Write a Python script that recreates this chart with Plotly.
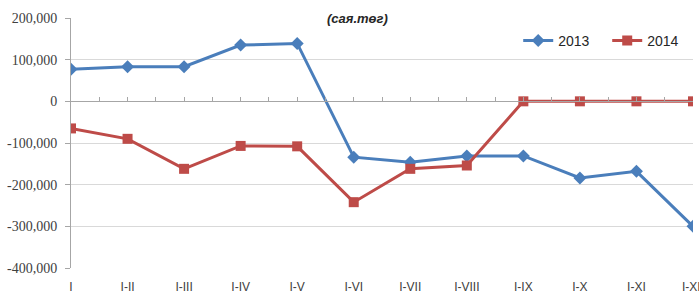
import plotly.graph_objects as go

categories = ["I", "I-II", "I-III", "I-IV", "I-V", "I-VI", "I-VII", "I-VIII", "I-IX", "I-X", "I-XI", "I-XII"]
values_2013 = [77000, 83000, 83000, 135000, 139000, -134000, -146000, -131000, -131000, -184000, -168000, -300000]
values_2014 = [-65000, -90000, -162000, -107000, -108000, -242000, -162000, -154000, 0, 0, 0, 0]
y_ticks = [200000, 100000, 0, -100000, -200000, -300000, -400000]
y_ticktext = ["200,000", "100,000", "0", "-100,000", "-200,000", "-300,000", "-400,000"]

BLUE = "#4A7EBB"
RED = "#BE4B48"

fig = go.Figure()
fig.add_trace(go.Scatter(x=categories, y=values_2013, name="2013", mode="lines+markers",
                         line=dict(color=BLUE, width=3),
                         marker=dict(symbol="diamond", size=10, color=BLUE)))
fig.add_trace(go.Scatter(x=categories, y=values_2014, name="2014", mode="lines+markers",
                         line=dict(color=RED, width=3),
                         marker=dict(symbol="square", size=10, color=RED)))

# helper axis drawn along y = 0 (Excel horizontal axis crossing at zero)
n = len(categories)
fig.add_trace(go.Scatter(x=[0, n - 1], y=[0, 0], xaxis="x2", mode="lines",
                         line=dict(color="rgba(0,0,0,0)", width=0), showlegend=False, hoverinfo="skip"))

fig.update_layout(
    width=699, height=294,
    margin=dict(l=71, r=6, t=18, b=26, autoexpand=False),
    paper_bgcolor="white", plot_bgcolor="white",
    showlegend=True,
    legend=dict(orientation="h", x=0.719, y=0.908, xanchor="left", yanchor="middle",
                font=dict(family="Liberation Sans, Arial", size=14, color="#262626"),
                bgcolor="rgba(0,0,0,0)", itemwidth=30, entrywidth=44, entrywidthmode="pixels"),
    xaxis=dict(type="category", range=[0, n - 1], showgrid=False, zeroline=False,
               showline=False, ticks="", ticklabelstandoff=10, automargin=False,
               tickfont=dict(family="Liberation Sans, Arial", size=12, color="#404040")),
    xaxis2=dict(range=[0, n - 1], overlaying="x", anchor="free", position=4 / 6,
                showline=True, linecolor="#A6A6A6", linewidth=1, automargin=False,
                ticks="inside", ticklen=4, tickcolor="#A6A6A6", dtick=0.5, tick0=0,
                showticklabels=False, showgrid=False, zeroline=False),
    yaxis=dict(range=[-400000, 200000], tickvals=y_ticks, ticktext=y_ticktext,
               showgrid=True, gridcolor="#D9D9D9", gridwidth=1, zeroline=False,
               showline=True, linecolor="#A6A6A6", linewidth=1, automargin=False,
               ticks="outside", ticklen=5, tickcolor="#A6A6A6", ticklabelstandoff=5,
               tickfont=dict(family="Liberation Serif, Times New Roman", size=14, color="#404040")),
    annotations=[dict(text="<b><i>(сая.төг)</i></b>", x=0.46, y=1.0, xref="paper", yref="paper",
                      xanchor="center", yanchor="middle", showarrow=False,
                      font=dict(family="Liberation Sans, Arial", size=13, color="#262626"))],
)

fig.write_html("out.html", config={"displayModeBar": False},
               post_script="document.body.style.margin='0';document.body.style.padding='0';")
